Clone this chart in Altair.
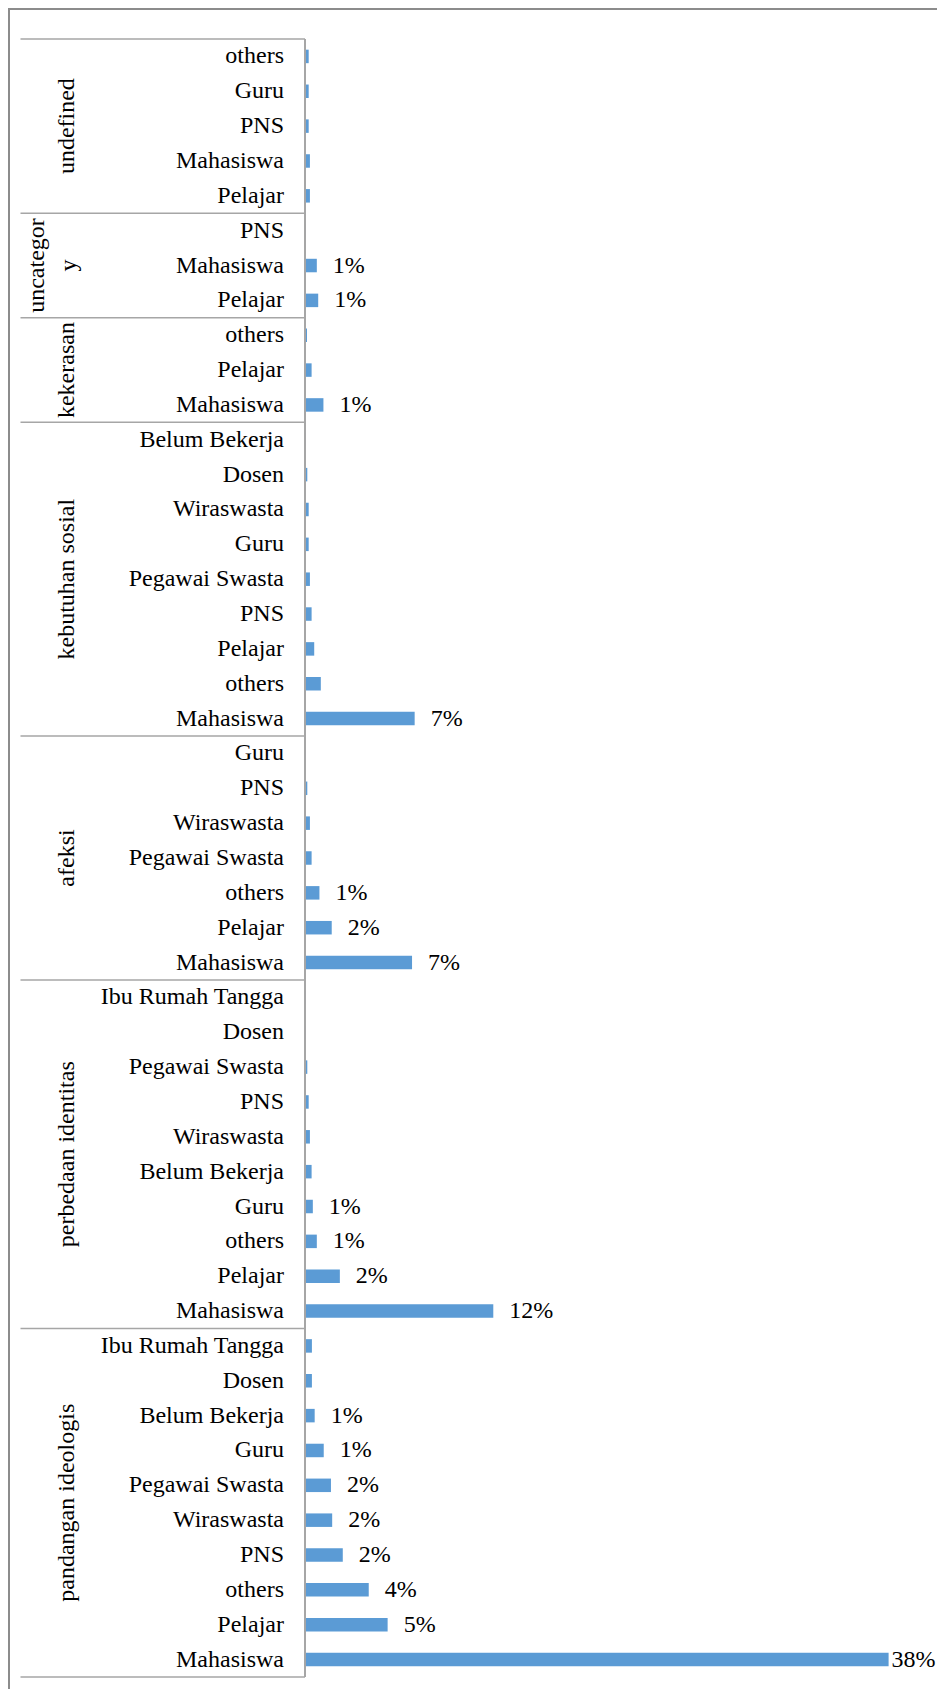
import altair as alt
import pandas as pd

FONT = "Liberation Serif"

groups = ["undefined", "uncategory", "kekerasan", "kebutuhan sosial", "afeksi",
          "perbedaan identitas", "pandangan ideologis"]
group_text = ["undefined", "uncategor\ny", "kekerasan", "kebutuhan sosial", "afeksi",
              "perbedaan identitas", "pandangan ideologis"]

cats_undefined = ["others", "Guru", "PNS", "Mahasiswa", "Pelajar"]
vals_undefined = [0.24, 0.24, 0.24, 0.32, 0.32]
labs_undefined = ["", "", "", "", ""]

cats_uncategory = ["PNS", "Mahasiswa", "Pelajar"]
vals_uncategory = [0.06, 0.77, 0.86]
labs_uncategory = ["", "1%", "1%"]

cats_kekerasan = ["others", "Pelajar", "Mahasiswa"]
vals_kekerasan = [0.13, 0.43, 1.20]
labs_kekerasan = ["", "", "1%"]

cats_kebutuhan = ["Belum Bekerja", "Dosen", "Wiraswasta", "Guru", "Pegawai Swasta",
                  "PNS", "Pelajar", "others", "Mahasiswa"]
vals_kebutuhan = [0.06, 0.15, 0.24, 0.24, 0.32, 0.43, 0.60, 1.03, 7.14]
labs_kebutuhan = ["", "", "", "", "", "", "", "", "7%"]

cats_afeksi = ["Guru", "PNS", "Wiraswasta", "Pegawai Swasta", "others", "Pelajar", "Mahasiswa"]
vals_afeksi = [0.06, 0.15, 0.32, 0.43, 0.94, 1.74, 6.97]
labs_afeksi = ["", "", "", "", "1%", "2%", "7%"]

cats_perbedaan = ["Ibu Rumah Tangga", "Dosen", "Pegawai Swasta", "PNS", "Wiraswasta",
                  "Belum Bekerja", "Guru", "others", "Pelajar", "Mahasiswa"]
vals_perbedaan = [0.06, 0.06, 0.15, 0.24, 0.32, 0.43, 0.51, 0.77, 2.27, 12.26]
labs_perbedaan = ["", "", "", "", "", "", "1%", "1%", "2%", "12%"]

cats_pandangan = ["Ibu Rumah Tangga", "Dosen", "Belum Bekerja", "Guru", "Pegawai Swasta",
                  "Wiraswasta", "PNS", "others", "Pelajar", "Mahasiswa"]
vals_pandangan = [0.45, 0.45, 0.63, 1.22, 1.69, 1.77, 2.46, 4.15, 5.38, 38.0]
labs_pandangan = ["", "", "1%", "1%", "2%", "2%", "2%", "4%", "5%", "38%"]

all_cats = [cats_undefined, cats_uncategory, cats_kekerasan, cats_kebutuhan,
            cats_afeksi, cats_perbedaan, cats_pandangan]
all_vals = [vals_undefined, vals_uncategory, vals_kekerasan, vals_kebutuhan,
            vals_afeksi, vals_perbedaan, vals_pandangan]
all_labs = [labs_undefined, labs_uncategory, labs_kekerasan, labs_kebutuhan,
            labs_afeksi, labs_perbedaan, labs_pandangan]

rows, grows, bounds = [], [], []
i = 0
for g, gt, cs, vs, ls in zip(groups, group_text, all_cats, all_vals, all_labs):
    start = i
    bounds.append({"b": start - 0.5})
    for c, v, l in zip(cs, vs, ls):
        rows.append({"i": i, "cat": c, "v": v, "lab": l, "grp": g})
        i += 1
    grows.append({"grp": g, "t": gt, "c": (start + i - 1) / 2,
                  "multi": "\n" in gt})
bounds.append({"b": i - 0.5})
N = i

df = pd.DataFrame(rows)
gdf = pd.DataFrame(grows)
bdf = pd.DataFrame(bounds)

W, H = 622, 1638
PL, PT, PR, PB = 297, 31, 10, 12

xscale = alt.Scale(domain=[0, 40.5], nice=False, zero=True, padding=0)
yscale = alt.Scale(domain=[-0.5, N - 0.5], reverse=True, nice=False, zero=False, padding=0)


def X(f):
    return alt.X(f, scale=xscale, axis=None)


def Y(f):
    return alt.Y(f, scale=yscale, axis=None)


base = alt.Chart(df)

bars = base.mark_bar(size=13.5, color="#5B9BD5").encode(
    x=X("v:Q"), x2=alt.datum(0), y=Y("i:Q"),
)

val_small = base.transform_filter("datum.lab != '' && datum.v < 30").mark_text(
    align="left", baseline="middle", dx=16, font=FONT, fontSize=24, color="#000000"
).encode(x=X("v:Q"), y=Y("i:Q"), text="lab:N")

val_big = base.transform_filter("datum.lab != '' && datum.v >= 30").mark_text(
    align="left", baseline="middle", dx=3, font=FONT, fontSize=24, color="#000000"
).encode(x=X("v:Q"), y=Y("i:Q"), text="lab:N")

cat_labels = base.mark_text(
    align="right", baseline="middle", font=FONT, fontSize=24, color="#000000"
).encode(x=alt.value(-21), y=Y("i:Q"), text="cat:N")

grp_single = alt.Chart(gdf).transform_filter("!datum.multi").mark_text(
    angle=270, align="center", baseline="middle", font=FONT, fontSize=24, color="#000000"
).encode(x=alt.value(-238), y=Y("c:Q"), text="t:N")

grp_multi = alt.Chart(gdf).transform_filter("datum.multi").mark_text(
    angle=270, align="center", baseline="middle", font=FONT, fontSize=24, color="#000000",
    lineBreak="\n", lineHeight=32
).encode(x=alt.value(-268), y=Y("c:Q"), text="t:N")

separators = alt.Chart(bdf).mark_rule(color="#A6A6A6", strokeWidth=1.5).encode(
    x=alt.value(-284.5), x2=alt.value(0), y=Y("b:Q")
)

axis_line = alt.Chart(bdf).mark_rule(color="#A6A6A6", strokeWidth=1.5).encode(
    x=alt.value(0), y=alt.value(0), y2=alt.value(H)
)

border_top = alt.Chart(bdf).mark_rule(color="#8C8C8C", strokeWidth=1.5).encode(
    x=alt.value(-PL + 0.75), x2=alt.value(W + PR), y=alt.value(-PT + 0.75)
)
border_left = alt.Chart(bdf).mark_rule(color="#8C8C8C", strokeWidth=1.5).encode(
    x=alt.value(-PL + 0.75), y=alt.value(-PT + 0.75), y2=alt.value(H + PB)
)

chart = alt.layer(
    bars, border_top, border_left, separators, axis_line, val_small, val_big,
    cat_labels, grp_single, grp_multi
).properties(
    width=W, height=H,
    padding={"left": PL, "top": PT, "right": PR, "bottom": PB},
    autosize=alt.AutoSizeParams(type="none"),
).configure_view(stroke=None)

chart.save("out.html", embed_options={"renderer": "svg", "actions": False})
